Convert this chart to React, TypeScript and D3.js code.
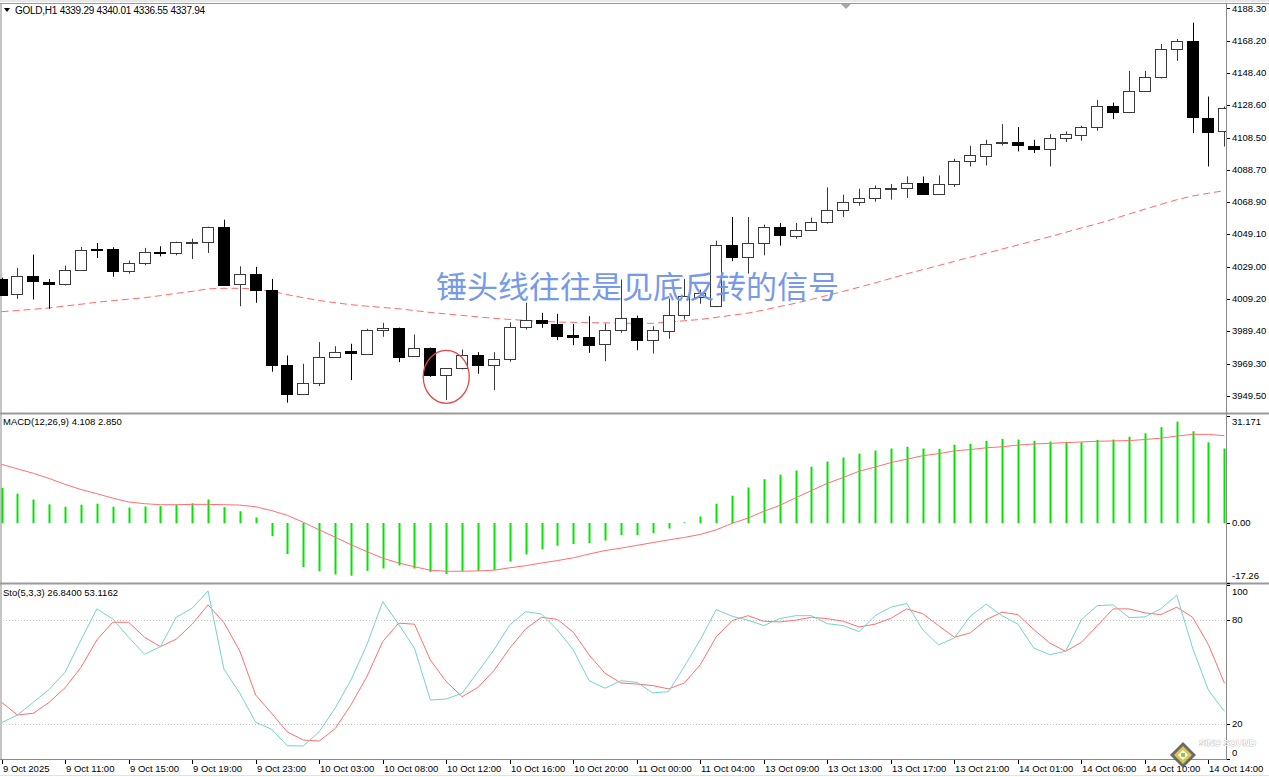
import React from "react";
import * as d3 from "d3";

const W = 1269;
const H = 777;

const opens = [4021.5,4011.85,4023.1,4019.85,4018.6,4027.05,4039.85,4040.0,4026.2,4031.35,4038.1,4037.5,4044.15,4044.3,4053.5,4018.4,4024.6,4014.75,3968.6,3950.75,3957.5,3973.5,3976.95,3975.55,3990.3,3991.35,3973.5,3978.6,3962.2,3966.3,3974.5,3968.35,3972.0,3991.95,3996.05,3994.0,3987.05,3985.8,3981.1,3989.9,3997.5,3983.7,3989.9,3999.1,4010.45,4004.65,4042.2,4035.05,4043.65,4053.3,4048.35,4051.85,4056.6,4063.75,4068.9,4071.1,4077.2,4077.3,4080.6,4073.8,4080.0,4094.15,4097.4,4105.5,4105.6,4103.55,4101.5,4108.3,4110.3,4115.05,4128.0,4124.3,4137.2,4145.85,4163.05,4168.0,4120.95,4112.35];
const highs = [4022.3,4028.3,4036.5,4021.5,4029.7,4041.2,4043.65,4040.95,4032.8,4040.6,4041.6,4044.45,4046.3,4053.7,4058.0,4029.25,4028.9,4021.5,3974.3,3969.2,3982.5,3980.0,3981.5,3990.75,3994.4,3991.5,3987.2,3979.2,3966.5,3978.0,3976.35,3976.35,3994.8,4006.75,4000.6,3999.95,3993.8,3998.5,3994.0,4021.1,3998.9,3992.35,4009.4,4021.5,4014.9,4045.1,4059.7,4059.7,4054.95,4056.0,4056.0,4059.25,4077.9,4073.4,4077.1,4079.1,4080.0,4084.65,4084.65,4085.3,4095.55,4103.55,4107.25,4116.9,4115.05,4107.25,4110.75,4112.35,4115.85,4131.85,4130.2,4149.7,4149.7,4166.3,4169.4,4179.45,4133.9,4127.75];
const lows = [4011.2,4009.2,4008.8,4003.05,4017.4,4026.8,4034.4,4022.75,4024.8,4029.9,4035.4,4036.05,4033.8,4037.5,4017.4,4004.65,4006.75,3964.3,3945.2,3949.9,3955.4,3973.3,3959.1,3974.9,3985.8,3970.2,3973.4,3961.2,3946.8,3965.7,3963.05,3952.95,3970.45,3990.3,3991.35,3983.7,3980.65,3975.95,3970.8,3988.3,3977.55,3975.55,3984.6,3996.45,4006.15,4004.05,4032.35,4024.8,4036.05,4042.0,4046.3,4051.05,4055.55,4059.7,4066.6,4069.1,4070.3,4071.35,4073.7,4073.7,4078.15,4090.8,4091.45,4103.75,4100.05,4099.05,4090.8,4105.85,4106.65,4112.8,4120.0,4123.7,4136.8,4145.0,4155.85,4111.35,4090.8,4103.1];
const closes = [4011.9,4023.1,4019.85,4018.6,4027.05,4039.35,4039.55,4026.2,4031.35,4038.1,4037.25,4044.3,4044.4,4053.5,4018.0,4024.6,4014.75,3968.35,3950.75,3957.5,3973.5,3976.6,3975.7,3990.3,3991.35,3973.5,3978.6,3962.2,3966.3,3974.5,3968.35,3972.0,3991.95,3996.05,3994.0,3986.8,3985.8,3981.1,3989.9,3997.5,3983.7,3989.9,3999.55,4010.8,4012.9,4042.2,4035.05,4043.65,4053.3,4048.35,4051.85,4056.8,4063.75,4068.9,4071.1,4077.3,4077.35,4080.6,4073.8,4080.0,4093.9,4097.6,4104.8,4105.65,4103.55,4101.9,4108.3,4110.75,4115.05,4128.0,4124.3,4137.2,4145.85,4163.05,4168.0,4120.95,4112.35,4126.75];
const maValues = [4001.3,4002.0,4002.8,4003.6,4004.8,4005.9,4007.1,4008.1,4009.0,4009.9,4011.2,4012.6,4013.8,4015.4,4015.7,4015.7,4015.3,4013.8,4011.8,4009.9,4008.2,4006.8,4005.6,4004.7,4003.9,4003.1,4002.0,4000.8,3999.9,3999.0,3998.1,3997.2,3996.5,3995.9,3995.3,3994.9,3994.7,3994.5,3994.4,3994.2,3994.1,3994.1,3994.9,3995.7,3996.5,3997.8,3999.1,4000.4,4002.3,4004.5,4006.5,4008.9,4011.3,4013.8,4016.4,4019.0,4021.8,4024.6,4027.2,4029.7,4032.3,4034.9,4037.3,4039.9,4042.4,4045.0,4047.5,4050.2,4052.9,4055.5,4058.4,4061.5,4064.5,4067.4,4070.3,4072.6,4074.3,4075.9];

const macdHist = [10.15,8.5,6.8,5.4,4.7,5.3,5.6,4.7,4.5,4.8,4.9,5.3,5.7,6.8,4.6,3.4,1.6,-3.8,-9.0,-12.8,-14.0,-14.9,-15.3,-13.9,-13.2,-12.3,-13.2,-14.2,-14.8,-13.9,-13.9,-13.6,-11.2,-9.1,-7.6,-6.6,-6.1,-5.8,-5.1,-3.5,-3.5,-2.9,-1.6,0.2,1.9,5.6,7.9,10.3,12.7,14.0,15.2,16.3,17.8,19.0,20.1,21.0,21.6,22.1,21.6,21.5,22.7,23.0,23.8,24.4,24.2,23.8,23.6,23.5,23.4,24.1,24.2,25.0,26.0,27.8,29.4,26.6,23.4,21.6];
const macdSignal = [17.0,15.7,14.4,12.9,11.2,9.7,8.5,7.2,6.1,5.6,5.3,5.3,5.4,5.4,5.3,5.2,4.7,3.6,2.2,0.2,-2.0,-4.1,-6.3,-8.3,-10.2,-11.6,-12.7,-13.7,-14.0,-14.0,-13.9,-13.7,-13.0,-12.4,-11.6,-10.9,-10.1,-9.0,-8.0,-7.3,-6.5,-5.7,-4.9,-4.2,-3.3,-2.0,-0.1,1.4,3.4,5.1,7.3,9.4,11.5,13.2,15.0,16.2,17.5,18.5,19.5,20.1,20.9,21.3,21.8,22.1,22.6,22.9,23.1,23.3,23.5,23.7,23.8,23.9,24.2,24.6,25.2,25.7,25.7,25.3];

const stoK = [20.8,25.2,32.5,40.0,49.8,68.4,86.2,80.4,69.9,60.1,64.5,81.4,86.6,96.5,51.5,37.7,21.0,17.0,7.5,7.4,15.6,29.1,45.3,65.5,90.4,77.4,63.6,33.8,34.4,37.7,50.1,62.6,77.0,84.6,83.3,74.1,62.6,44.9,40.6,44.9,44.0,37.9,38.6,53.2,68.5,85.8,82.0,79.7,76.6,80.6,82.3,82.3,77.7,76.6,73.1,82.3,87.2,89.3,74.3,65.5,69.5,82.0,88.9,82.3,77.4,63.7,59.9,61.8,80.0,88.1,88.5,81.2,81.6,86.2,94.1,63.7,39.4,27.3];
const stoD = [32.5,25.2,26.2,32.5,40.9,52.6,68.4,78.5,78.5,69.9,64.5,68.8,77.4,88.5,78.3,62.0,36.7,26.2,15.4,10.8,10.2,17.3,31.0,47.2,67.4,78.0,77.4,56.8,44.4,35.7,41.1,50.7,63.6,74.7,81.4,80.2,72.8,59.7,49.2,43.6,43.0,42.1,40.2,43.6,54.1,70.1,79.5,82.3,79.1,78.7,79.7,81.4,80.6,79.1,75.8,77.4,80.8,86.2,83.5,76.6,69.9,72.4,80.0,84.3,82.9,74.3,66.6,61.8,67.0,76.6,86.2,86.2,83.9,82.9,87.2,81.4,65.6,43.6];

const priceTicks = ["4188.30","4168.20","4148.40","4128.60","4108.50","4088.70","4068.90","4049.10","4029.00","4009.20","3989.40","3969.30","3949.50"];
const macdTicks = ["31.171","0.00","-17.26"];
const stoTicks = ["100","80","20","0"];
const stoLevels = [80, 20];
const timeLabels = ["9 Oct 2025","9 Oct 11:00","9 Oct 15:00","9 Oct 19:00","9 Oct 23:00","10 Oct 03:00","10 Oct 08:00","10 Oct 12:00","10 Oct 16:00","10 Oct 20:00","11 Oct 00:00","11 Oct 04:00","13 Oct 09:00","13 Oct 13:00","13 Oct 17:00","13 Oct 21:00","14 Oct 01:00","14 Oct 06:00","14 Oct 10:00","14 Oct 14:00"];
const timeLabelStep = 4;

const headerText = "GOLD,H1  4339.29 4340.01 4336.55 4337.94";
const macdLegend = "MACD(12,26,9) 4.108 2.850";
const stoLegend = "Sto(5,3,3) 26.8400 53.1162";
const annotation = "锤头线往往是见底反转的信号";
const watermark = "SINO SOUND";
const hammerIndex = 28;

const FONT = "'Liberation Sans', Arial, sans-serif";

export default function App() {
  const n = closes.length;
  const plotRight = 1226;
  const axisX = 1226.5;
  const x = d3.scaleLinear().domain([0, n - 1]).range([1.6, 1.6 + 15.88 * (n - 1)]);

  const mainTop = 4, mainBottom = 412;
  const macdTop = 415, macdBottom = 582;
  const stoTop = 585, stoBottom = 759;

  const yP = d3.scaleLinear().domain([3949.5, 4188.3]).range([395.7, 8.3]);
  const yM = d3.scaleLinear().domain([-17.26, 31.171]).range([582.5, 415.5]);
  const yS = d3.scaleLinear().domain([0, 100]).range([758.8, 584.9]);

  const idx = d3.range(n);
  const maLine = d3.line<number>().x((i) => x(i)).y((i) => yP(maValues[i]))(idx) || "";
  const sigLine = d3.line<number>().x((i) => x(i)).y((i) => yM(macdSignal[i]))(idx) || "";
  const kLine = d3.line<number>().x((i) => x(i)).y((i) => yS(stoK[i]))(idx) || "";
  const dLine = d3.line<number>().x((i) => x(i)).y((i) => yS(stoD[i]))(idx) || "";

  const clampLabel = (v: number, top: number, bottom: number) => Math.min(Math.max(v, top + 7), bottom - 6);

  const hx = x(hammerIndex);
  const hy = (yP(highs[hammerIndex - 1]) + yP(lows[hammerIndex])) / 2;

  return (
    <svg width={W} height={H} style={{ position: "absolute", left: 0, top: 0, background: "#fff" }}
      fontFamily={FONT}>
      <defs>
        <clipPath id="cMain"><rect x={0} y={mainTop} width={plotRight} height={mainBottom - mainTop} /></clipPath>
        <clipPath id="cMacd"><rect x={0} y={macdTop - 1} width={plotRight} height={macdBottom - macdTop + 2} /></clipPath>
        <clipPath id="cSto"><rect x={0} y={stoTop} width={plotRight} height={stoBottom - stoTop} /></clipPath>
      </defs>
      <rect x={0} y={0} width={W} height={H} fill="#fff" />

      {/* frame */}
      <line x1={0} x2={W} y1={1} y2={1} stroke="#d0d0d0" />
      <line x1={0} x2={W} y1={3.5} y2={3.5} stroke="#9a9a9a" />
      <line x1={1} x2={1} y1={3} y2={759} stroke="#8a8a8a" strokeWidth={1} />
      <rect x={0} y={412.5} width={W} height={2} fill="#9a9a9a" />
      <rect x={0} y={582.5} width={W} height={2} fill="#9a9a9a" />
      <line x1={axisX} x2={axisX} y1={3} y2={760} stroke="#8a8a8a" />
      <line x1={0} x2={axisX} y1={759.5} y2={759.5} stroke="#8a8a8a" />
      <polygon points="841,4 851,4 846,9" fill="#a8a8a8" />

      {/* main pane */}
      <g clipPath="url(#cMain)">
        <path d={maLine} fill="none" stroke="#ff6a6a" strokeWidth={1} strokeDasharray="7,4" />
        {idx.map((i) => {
          const cx = Math.round(x(i));
          const bull = closes[i] >= opens[i];
          const top = yP(Math.max(opens[i], closes[i]));
          const bot = yP(Math.min(opens[i], closes[i]));
          const h = Math.max(1, bot - top);
          return (
            <g key={i}>
              <line x1={cx + 0.5} x2={cx + 0.5} y1={yP(highs[i])} y2={yP(lows[i])}
                stroke={bull ? "#3a3a3a" : "#000"} strokeWidth={1} />
              <rect x={cx - 5.5} y={Math.round(top) + 0.5} width={11} height={Math.max(1, Math.round(h))}
                fill={bull ? "#fff" : "#000"} stroke={bull ? "#3a3a3a" : "#000"} strokeWidth={1} />
            </g>
          );
        })}
      </g>
      <text x={436} y={298} fontFamily="'Noto Sans CJK SC', sans-serif" fontSize={31} fill="#6f95e8"
        opacity={0.95}>{annotation}</text>
      <ellipse cx={hx} cy={hy + 3} rx={23} ry={26.5} fill="none" stroke="#e84444" strokeWidth={1.3} />

      <path d="M4,8 L10,8 L7,12 Z" fill="#000" />
      <text x={15} y={14} fontSize={10} fill="#000" letterSpacing={-0.25}>{headerText}</text>

      {priceTicks.map((t) => {
        const yy = yP(parseFloat(t));
        return (
          <g key={t}>
            <line x1={1227} x2={1230} y1={Math.round(yy) + 0.5} y2={Math.round(yy) + 0.5} stroke="#000" />
            <text x={1232} y={yy} dy="0.35em" fontSize={9.5} fill="#000">{t}</text>
          </g>
        );
      })}

      {/* MACD pane */}
      <g clipPath="url(#cMacd)">
        {idx.map((i) => {
          const cx = Math.round(x(i)) + 0.5;
          return (
            <line key={i} x1={cx} x2={cx} y1={yM(0)} y2={yM(macdHist[i])} stroke="#00e600" strokeWidth={2} />
          );
        })}
        <path d={sigLine} fill="none" stroke="#ff6f6f" strokeWidth={1} />
      </g>
      <text x={3} y={425} fontSize={9.5} fill="#000">{macdLegend}</text>
      {macdTicks.map((t) => {
        const yy = yM(parseFloat(t));
        return (
          <g key={t}>
            <line x1={1227} x2={1230} y1={Math.round(yy) + 0.5} y2={Math.round(yy) + 0.5} stroke="#000" />
            <text x={1232} y={clampLabel(yy, macdTop, macdBottom)} dy="0.35em" fontSize={9.5} fill="#000">{t}</text>
          </g>
        );
      })}

      {/* Stochastic pane */}
      {stoLevels.map((lv) => (
        <line key={lv} x1={0} x2={plotRight} y1={Math.round(yS(lv)) + 0.5} y2={Math.round(yS(lv)) + 0.5}
          stroke="#c4c4c4" strokeDasharray="1,2" />
      ))}
      <g clipPath="url(#cSto)">
        <path d={dLine} fill="none" stroke="#ff6f6f" strokeWidth={1} />
        <path d={kLine} fill="none" stroke="#74d4cc" strokeWidth={1} />
      </g>
      <text x={3} y={596} fontSize={9.5} fill="#000">{stoLegend}</text>
      {stoTicks.map((t) => {
        const yy = yS(parseFloat(t));
        return (
          <g key={t}>
            <line x1={1227} x2={1230} y1={Math.round(yy) + 0.5} y2={Math.round(yy) + 0.5} stroke="#000" />
            <text x={1232} y={clampLabel(yy, stoTop, stoBottom)} dy="0.35em" fontSize={9.5} fill="#000">{t}</text>
          </g>
        );
      })}

      {/* time axis */}
      {timeLabels.map((t, k) => {
        const xx = Math.round(x(k * timeLabelStep));
        return (
          <g key={t}>
            <line x1={xx + 0.5} x2={xx + 0.5} y1={760} y2={764} stroke="#000" />
            <text x={xx + 1} y={771.5} fontSize={9.5} fill="#000">{t}</text>
          </g>
        );
      })}
      <line x1={0} x2={W} y1={775.5} y2={775.5} stroke="#e2e2e2" />

      {/* watermark */}
      <g opacity={0.9}>
        <polygon points="1183,742 1196,755 1183,768 1170,755" fill="#5a5a5a" />
        <polygon points="1183,746 1192,755 1183,764 1174,755" fill="#d8c23a" />
        <polygon points="1183,750 1188,755 1183,760 1178,755" fill="#fff" />
        <rect x={1181} y={753} width={4} height={4} fill="#7fc241" />
        <text x={1199} y={746} fontSize={9} fontWeight="bold" fill="#fff" stroke="#9a9a9a" strokeWidth={0.6}
          paintOrder="stroke">{watermark}</text>
      </g>
    </svg>
  );
}
